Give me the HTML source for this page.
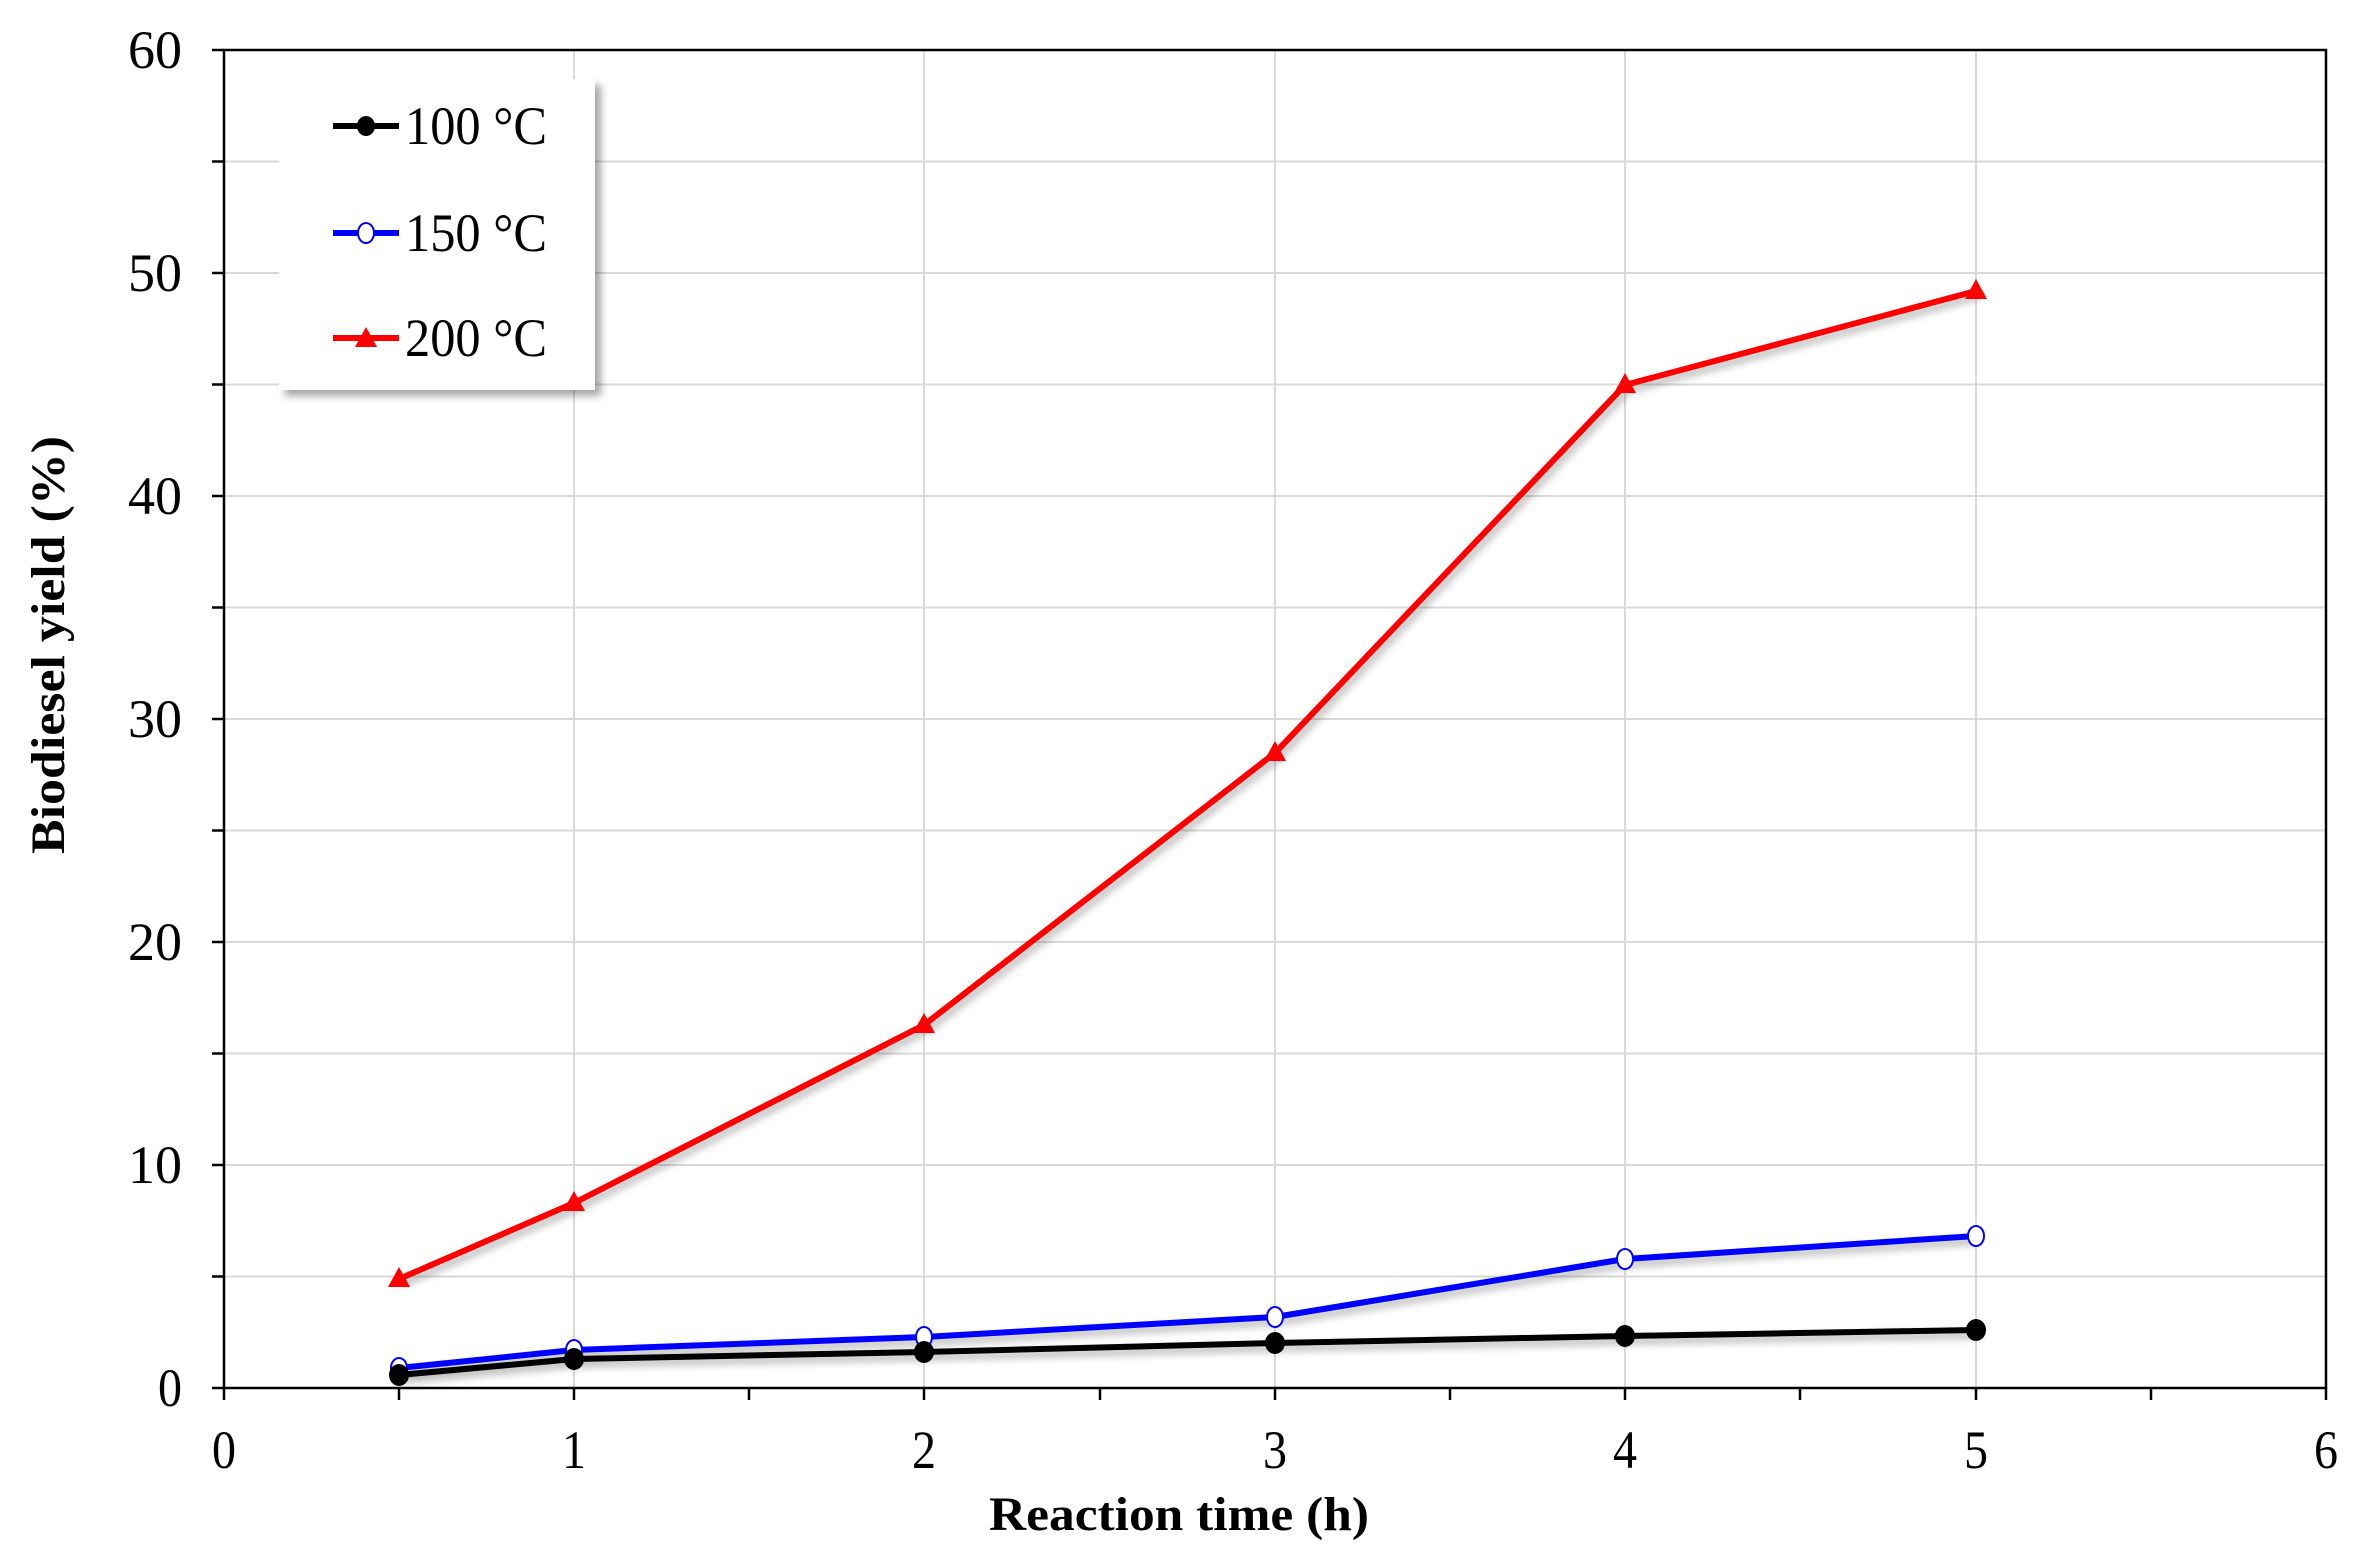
<!DOCTYPE html>
<html><head><meta charset="utf-8"><style>
html,body{margin:0;padding:0;background:#fff;}
svg{display:block;}
text{font-family:"Liberation Serif",serif;fill:#000;}
</style></head><body>
<svg width="2376" height="1568" viewBox="0 0 2376 1568" xmlns="http://www.w3.org/2000/svg">
<defs>
<filter id="sh" x="-10%" y="-10%" width="130%" height="130%"><feDropShadow dx="6" dy="6" stdDeviation="4" flood-color="#000" flood-opacity="0.35"/></filter>
<filter id="ls" x="-5%" y="-20%" width="110%" height="140%"><feDropShadow dx="3" dy="5" stdDeviation="4" flood-color="#000" flood-opacity="0.3"/></filter>
</defs>
<g stroke="#d9d9d9" stroke-width="2">
<line x1="574" y1="50" x2="574" y2="1388"/><line x1="924" y1="50" x2="924" y2="1388"/><line x1="1275" y1="50" x2="1275" y2="1388"/><line x1="1625" y1="50" x2="1625" y2="1388"/><line x1="1976" y1="50" x2="1976" y2="1388"/>
<line x1="224" y1="161.5" x2="2326" y2="161.5"/><line x1="224" y1="273" x2="2326" y2="273"/><line x1="224" y1="384.5" x2="2326" y2="384.5"/><line x1="224" y1="496" x2="2326" y2="496"/><line x1="224" y1="607.5" x2="2326" y2="607.5"/><line x1="224" y1="719" x2="2326" y2="719"/><line x1="224" y1="830.5" x2="2326" y2="830.5"/><line x1="224" y1="942" x2="2326" y2="942"/><line x1="224" y1="1053.5" x2="2326" y2="1053.5"/><line x1="224" y1="1165" x2="2326" y2="1165"/><line x1="224" y1="1276.5" x2="2326" y2="1276.5"/>
</g>
<rect x="224" y="50" width="2102" height="1338" fill="none" stroke="#000" stroke-width="2.5"/>
<g stroke="#000" stroke-width="2.5">
<line x1="212" y1="50" x2="224" y2="50"/><line x1="212" y1="161.5" x2="224" y2="161.5"/><line x1="212" y1="273" x2="224" y2="273"/><line x1="212" y1="384.5" x2="224" y2="384.5"/><line x1="212" y1="496" x2="224" y2="496"/><line x1="212" y1="607.5" x2="224" y2="607.5"/><line x1="212" y1="719" x2="224" y2="719"/><line x1="212" y1="830.5" x2="224" y2="830.5"/><line x1="212" y1="942" x2="224" y2="942"/><line x1="212" y1="1053.5" x2="224" y2="1053.5"/><line x1="212" y1="1165" x2="224" y2="1165"/><line x1="212" y1="1276.5" x2="224" y2="1276.5"/><line x1="212" y1="1388" x2="224" y2="1388"/>
<line x1="224" y1="1388" x2="224" y2="1400"/><line x1="399" y1="1388" x2="399" y2="1400"/><line x1="574" y1="1388" x2="574" y2="1400"/><line x1="749" y1="1388" x2="749" y2="1400"/><line x1="924" y1="1388" x2="924" y2="1400"/><line x1="1100" y1="1388" x2="1100" y2="1400"/><line x1="1275" y1="1388" x2="1275" y2="1400"/><line x1="1450" y1="1388" x2="1450" y2="1400"/><line x1="1625" y1="1388" x2="1625" y2="1400"/><line x1="1800" y1="1388" x2="1800" y2="1400"/><line x1="1976" y1="1388" x2="1976" y2="1400"/><line x1="2151" y1="1388" x2="2151" y2="1400"/><line x1="2326" y1="1388" x2="2326" y2="1400"/>
</g>
<g font-size="54" text-anchor="end">
<text x="182" y="68" textLength="54" lengthAdjust="spacingAndGlyphs">60</text><text x="182" y="291" textLength="54" lengthAdjust="spacingAndGlyphs">50</text><text x="182" y="514" textLength="54" lengthAdjust="spacingAndGlyphs">40</text><text x="182" y="737" textLength="54" lengthAdjust="spacingAndGlyphs">30</text><text x="182" y="960" textLength="54" lengthAdjust="spacingAndGlyphs">20</text><text x="182" y="1183" textLength="54" lengthAdjust="spacingAndGlyphs">10</text><text x="182" y="1406" textLength="24" lengthAdjust="spacingAndGlyphs">0</text>
</g>
<g font-size="54" text-anchor="middle">
<text x="224" y="1468" textLength="24" lengthAdjust="spacingAndGlyphs">0</text><text x="574" y="1468" textLength="24" lengthAdjust="spacingAndGlyphs">1</text><text x="924" y="1468" textLength="24" lengthAdjust="spacingAndGlyphs">2</text><text x="1275" y="1468" textLength="24" lengthAdjust="spacingAndGlyphs">3</text><text x="1625" y="1468" textLength="24" lengthAdjust="spacingAndGlyphs">4</text><text x="1976" y="1468" textLength="24" lengthAdjust="spacingAndGlyphs">5</text><text x="2326" y="1468" textLength="24" lengthAdjust="spacingAndGlyphs">6</text>
</g>
<text x="1179" y="1530" font-size="48" font-weight="bold" text-anchor="middle" textLength="380" lengthAdjust="spacingAndGlyphs">Reaction time (h)</text>
<text transform="translate(64,645) rotate(-90)" font-size="48" font-weight="bold" text-anchor="middle" textLength="418" lengthAdjust="spacingAndGlyphs">Biodiesel yield (%)</text>
<g filter="url(#ls)" fill="none" stroke-width="6" stroke-linejoin="round">
<polyline stroke="#ff0000" points="399,1279 574,1203 924,1025 1275,753 1625,385 1976,291"/>
<polyline stroke="#0000ff" points="399,1368 574,1350 924,1337 1275,1317 1625,1259 1976,1236"/>
<polyline stroke="#000" points="399,1375 574,1359 924,1352 1275,1343 1625,1336 1976,1330"/>
</g>
<g fill="#ff0000">
<polygon points="399,1267 388,1287 410,1287"/><polygon points="574,1191 563,1211 585,1211"/><polygon points="924,1013 913,1033 935,1033"/><polygon points="1275,741 1264,761 1286,761"/><polygon points="1625,373 1614,393 1636,393"/><polygon points="1976,279 1965,299 1987,299"/>
</g>
<g fill="#fff" stroke="#0000ff" stroke-width="2">
<ellipse cx="399" cy="1368" rx="8" ry="10"/><ellipse cx="574" cy="1350" rx="8" ry="10"/><ellipse cx="924" cy="1337" rx="8" ry="10"/><ellipse cx="1275" cy="1317" rx="8" ry="10"/><ellipse cx="1625" cy="1259" rx="8" ry="10"/><ellipse cx="1976" cy="1236" rx="8" ry="10"/>
</g>
<g fill="#000">
<ellipse cx="399" cy="1375" rx="10" ry="11"/><ellipse cx="574" cy="1359" rx="10" ry="11"/><ellipse cx="924" cy="1352" rx="10" ry="11"/><ellipse cx="1275" cy="1343" rx="10" ry="11"/><ellipse cx="1625" cy="1336" rx="10" ry="11"/><ellipse cx="1976" cy="1330" rx="10" ry="11"/>
</g>
<rect x="279" y="79" width="316" height="311" fill="#fff" filter="url(#sh)"/>
<g stroke-width="6">
<line x1="333" y1="126" x2="399" y2="126" stroke="#000"/>
<line x1="333" y1="233" x2="399" y2="233" stroke="#0000ff"/>
<line x1="333" y1="338" x2="399" y2="338" stroke="#ff0000"/>
</g>
<ellipse cx="366" cy="126" rx="9" ry="10" fill="#000"/>
<ellipse cx="366" cy="233" rx="8" ry="10" fill="#fff" stroke="#0000ff" stroke-width="2"/>
<polygon points="366,327 355,347 377,347" fill="#ff0000"/>
<g font-size="54">
<text x="405" y="144" textLength="142" lengthAdjust="spacingAndGlyphs">100 °C</text>
<text x="405" y="251" textLength="142" lengthAdjust="spacingAndGlyphs">150 °C</text>
<text x="405" y="356" textLength="142" lengthAdjust="spacingAndGlyphs">200 °C</text>
</g>
</svg>
</body></html>
